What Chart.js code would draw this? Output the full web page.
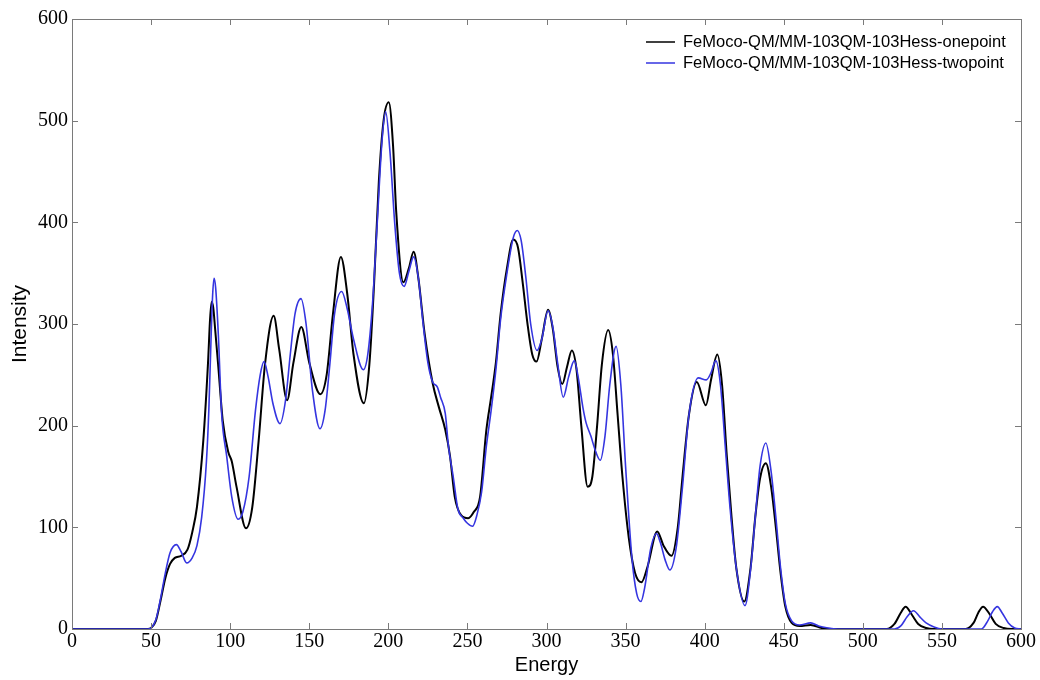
<!DOCTYPE html>
<html>
<head>
<meta charset="utf-8">
<script src="https://cdn.jsdelivr.net/npm/chart.js@4"></script>
<style>
  html, body { margin: 0; padding: 0; background: #fff; }
  #wrap { width: 1040px; height: 680px; }
</style>
</head>
<body>
<div id="wrap"><canvas id="specChart" width="1040" height="680"></canvas></div>
<script>
// series labels
const seriesNames = ['FeMoco-QM/MM-103QM-103Hess-onepoint', 'FeMoco-QM/MM-103QM-103Hess-twopoint'];

// onepoint spectrum
const energyOne = [0, 40, 48, 50, 53, 56, 59, 62, 65, 69, 73, 76, 79, 83, 86, 87.3, 88.3, 89.3, 90.5, 92.5, 95.3, 98.8,
  101, 104, 110, 114, 118, 122, 127.5, 131, 136, 140, 145, 150, 157, 161, 165, 170, 174, 178, 184.5, 188,
  191, 194, 197, 200.3, 203, 205, 209.5, 213, 216, 219, 223, 228, 232, 236, 239, 242, 246, 250.5, 254, 258,
  262, 265, 268, 271, 275, 279, 282, 285, 288, 291, 293.7, 297, 301, 304, 307, 310, 313, 316, 319, 322,
  326, 329, 332, 335, 339, 342, 345, 348, 352, 356, 360, 364, 370, 374, 379, 383, 386, 390, 395, 400.8,
  404, 408, 411, 414, 417, 420, 425, 429, 432, 435, 438.7, 442, 445, 448, 451, 455, 460, 467, 474, 480,
  515, 520, 524, 527, 531, 535, 540, 545, 565, 570, 573, 576, 580, 584, 589, 594, 600];
const intensityOne = [0, 0, 0, 1, 8, 28, 50, 64, 70, 72, 78, 95, 120, 185, 262, 305, 322, 316, 295, 258, 205, 174,
  165, 140, 99, 120, 185, 260, 308, 275, 225, 262, 297, 262, 231, 250, 310, 366, 330, 270, 222, 260,
  340, 440, 500, 518, 475, 410, 341, 355, 371, 345, 290, 242, 218, 196, 170, 130, 112, 109, 115, 130,
  196, 228, 262, 310, 355, 383, 375, 340, 300, 270, 263, 285, 314, 295, 258, 241, 258, 274, 255, 200,
  140, 150, 200, 260, 294, 270, 210, 150, 90, 55, 46, 62, 96, 82, 72, 100, 150, 210, 243, 220,
  245, 270, 240, 170, 110, 60, 27, 60, 110, 148, 163, 140, 100, 55, 22, 6, 3, 4, 1, 0,
  0, 5, 16, 22, 14, 5, 1, 0, 0, 6, 16, 22, 15, 5, 1, 0, 0];

// twopoint spectrum
const energyTwo = [0, 40, 48, 50, 53, 56, 59, 62, 66, 69, 72.5, 76, 79, 82, 85, 86.5, 88, 88.9, 89.8, 90.8,
  92.5, 94.6, 97.8, 101, 105, 108, 112, 116, 119, 121.4, 124, 127, 131.5, 135, 138, 141, 144.8, 148, 152, 156.8,
  160, 163, 166, 170.5, 174, 178, 184.2, 187, 190, 193, 196, 198.3, 201, 204, 207, 210, 213, 216, 219, 222,
  225, 228, 231, 233, 236, 238, 241, 244, 247.4, 250, 253.3, 256, 259, 262, 265, 268, 271, 275, 279, 281.5,
  284, 287, 290, 294, 297, 301, 304, 307, 310.6, 314, 317.6, 320, 323, 325, 328, 331, 334, 337, 340, 344,
  347, 350, 354, 357, 359.7, 362, 366, 369.5, 372, 375, 378, 382, 386, 390, 396, 401, 404, 407, 410, 413,
  416, 420, 425.5, 429, 432, 435, 438.7, 442, 445, 448, 451, 455, 460, 467, 472, 478, 484, 520, 524, 528,
  532, 536, 540, 545, 550, 575, 579, 582, 585, 588, 592, 596, 600];
const intensityTwo = [0, 0, 0, 1, 9, 30, 55, 75, 83, 76, 65, 70, 82, 110, 165, 215, 290, 328, 345, 336,
  290, 212, 170, 130, 108, 115, 150, 215, 250, 263, 248, 222, 202, 225, 270, 310, 325, 300, 235, 197,
  215, 260, 310, 332, 315, 285, 255, 270, 320, 400, 480, 509, 470, 400, 350, 337, 352, 366, 345, 300,
  262, 243, 238, 228, 212, 180, 150, 118, 109, 104, 101, 112, 135, 180, 215, 255, 305, 350, 385, 392,
  382, 345, 300, 274, 285, 313, 297, 262, 228, 248, 264, 248, 218, 203, 190, 175, 166, 190, 240, 278,
  240, 160, 70, 35, 27, 40, 80, 94, 85, 68, 58, 80, 140, 210, 247, 245, 252, 264, 240, 180,
  120, 60, 23, 58, 110, 160, 183, 155, 110, 60, 25, 8, 4, 6, 3, 1, 0, 0, 3, 12,
  18, 12, 6, 2, 0, 0, 8, 17, 22, 16, 6, 1, 0];

const xTicks = [0, 50, 100, 150, 200, 250, 300, 350, 400, 450, 500, 550, 600];
const yTicks = [0, 100, 200, 300, 400, 500, 600];
const lineColors = ['#000000', '#3535e0'];

function toPoints(xs, ys) {
  return xs.map((x, i) => ({ x: x, y: ys[i] }));
}

// box around the plot with inward ticks, and a legend inside the plot
const boxPlugin = {
  id: 'boxPlugin',
  afterDraw(chart) {
    const ctx = chart.ctx;
    const a = chart.chartArea;
    const xs = chart.scales.x;
    const ys = chart.scales.y;
    ctx.save();
    ctx.strokeStyle = '#7a7a7a';
    ctx.lineWidth = 1;
    ctx.strokeRect(a.left + 0.5, a.top + 0.5, a.right - a.left, a.bottom - a.top);
    ctx.beginPath();
    xTicks.forEach(v => {
      const px = Math.round(xs.getPixelForValue(v)) + 0.5;
      ctx.moveTo(px, a.bottom); ctx.lineTo(px, a.bottom - 6);
      ctx.moveTo(px, a.top); ctx.lineTo(px, a.top + 6);
    });
    yTicks.forEach(v => {
      const py = Math.round(ys.getPixelForValue(v)) + 0.5;
      ctx.moveTo(a.left, py); ctx.lineTo(a.left + 6, py);
      ctx.moveTo(a.right, py); ctx.lineTo(a.right - 6, py);
    });
    ctx.stroke();

    // legend
    ctx.font = '16.5px "Liberation Sans", Arial, sans-serif';
    ctx.textBaseline = 'middle';
    ctx.textAlign = 'left';
    chart.data.datasets.forEach((ds, i) => {
      const y = 42 + i * 21;
      ctx.strokeStyle = ds.borderColor;
      ctx.lineWidth = 1.5;
      ctx.beginPath();
      ctx.moveTo(646, y); ctx.lineTo(675, y);
      ctx.stroke();
      ctx.fillStyle = '#000';
      ctx.fillText(ds.label, 683, y);
    });
    ctx.restore();
  }
};

new Chart(document.getElementById('specChart').getContext('2d'), {
  type: 'line',
  data: {
    datasets: [{
      label: seriesNames[0],
      data: toPoints(energyOne, intensityOne),
      borderColor: lineColors[0],
      borderWidth: 2,
      pointRadius: 0,
      cubicInterpolationMode: 'monotone',
      order: 2
    }, {
      label: seriesNames[1],
      data: toPoints(energyTwo, intensityTwo),
      borderColor: lineColors[1],
      borderWidth: 1.6,
      pointRadius: 0,
      cubicInterpolationMode: 'monotone',
      order: 1
    }]
  },
  options: {
    responsive: false,
    animation: false,
    layout: { padding: { top: 19, right: 19, left: 0, bottom: 0 } },
    plugins: {
      legend: { display: false },
      tooltip: { enabled: false }
    },
    scales: {
      x: {
        type: 'linear',
        min: 0, max: 600,
        afterBuildTicks: s => { s.ticks = xTicks.map(v => ({ value: v })); },
        afterFit: s => { s.height = 51; },
        grid: { display: false, drawTicks: false, tickLength: 0 },
        border: { display: false },
        ticks: {
          color: '#000',
          padding: 1,
          maxRotation: 0,
          font: { family: '"Liberation Serif", "Times New Roman", serif', size: 20 }
        },
        title: {
          display: true,
          text: 'Energy',
          color: '#000',
          padding: { top: 0, bottom: 3 },
          font: { family: '"Liberation Sans", Arial, sans-serif', size: 20 }
        }
      },
      y: {
        min: 0, max: 600,
        afterBuildTicks: s => { s.ticks = yTicks.map(v => ({ value: v })); },
        afterFit: s => { s.width = 72; },
        grid: { display: false, drawTicks: false, tickLength: 0 },
        border: { display: false },
        ticks: {
          color: '#000',
          padding: 4,
          font: { family: '"Liberation Serif", "Times New Roman", serif', size: 20 }
        },
        title: {
          display: true,
          text: 'Intensity',
          color: '#000',
          padding: { top: 8, bottom: 0 },
          font: { family: '"Liberation Sans", Arial, sans-serif', size: 21 }
        }
      }
    }
  },
  plugins: [boxPlugin]
});
</script>
</body>
</html>
